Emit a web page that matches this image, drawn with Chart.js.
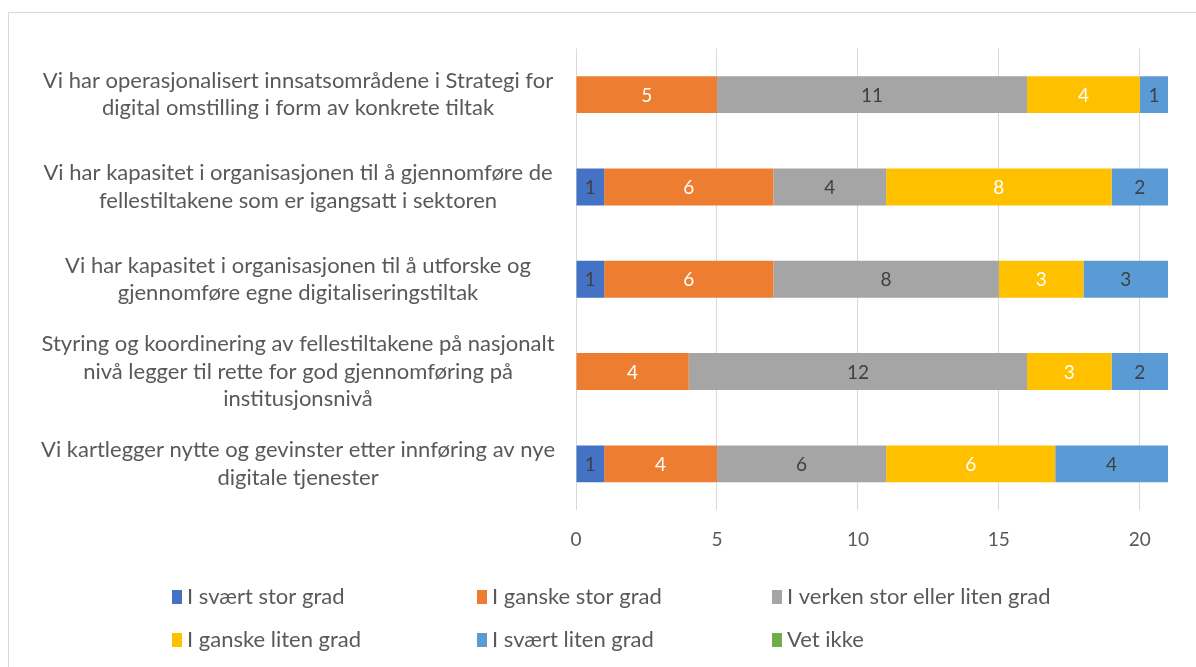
<!DOCTYPE html>
<html>
<head>
<meta charset="utf-8">
<script src="https://cdn.jsdelivr.net/npm/chart.js@4"></script>
<style>
  html, body { margin: 0; padding: 0; background: #fff; overflow: hidden; }
  #wrap { position: relative; width: 1196px; height: 667px; }
  #frame { position: absolute; left: 8px; top: 12px; width: 1200px; height: 700px; border: 1px solid #d9d9d9; box-sizing: border-box; }
  canvas { position: absolute; left: 0; top: 0; }
</style>
</head>
<body>
<div id="wrap">
  <div id="frame"></div>
  <canvas id="chart" width="1196" height="667"></canvas>
</div>
<script>
const categories = [
    ['Vi har operasjonalisert innsatsområdene i Strategi for', 'digital omstilling i form av konkrete tiltak'],
    ['Vi har kapasitet i organisasjonen til å gjennomføre de', 'fellestiltakene som er igangsatt i sektoren'],
    ['Vi har kapasitet i organisasjonen til å utforske og', 'gjennomføre egne digitaliseringstiltak'],
    ['Styring og koordinering av fellestiltakene på nasjonalt', 'nivå legger til rette for god gjennomføring på', 'institusjonsnivå'],
    ['Vi kartlegger nytte og gevinster etter innføring av nye', 'digitale tjenester']
];

const seriesNames = ['I svært stor grad', 'I ganske stor grad', 'I verken stor eller liten grad',
    'I ganske liten grad', 'I svært liten grad', 'Vet ikke'];

const sværtStor = [0, 1, 1, 0, 1];
const ganskeStor = [5, 6, 6, 4, 4];
const verken = [11, 4, 8, 12, 6];
const ganskeLiten = [4, 8, 3, 3, 6];
const sværtLiten = [1, 2, 3, 2, 4];
const vetIkke = [0, 0, 0, 0, 0];

const xTicks = [0, 5, 10, 15, 20];

const colors = ['#4472C4', '#ED7D31', '#A5A5A5', '#FFC000', '#5B9BD5', '#70AD47'];
const labelColors = ['#404040', '#ffffff', '#404040', '#ffffff', '#404040', '#404040'];

const FONT = 'Lato, "Open Sans", sans-serif';
const TEXT = '#595959';

const values = [sværtStor, ganskeStor, verken, ganskeLiten, sværtLiten, vetIkke];

// value labels in the middle of each segment
const barLabels = {
    id: 'barLabels',
    afterDatasetsDraw(chart) {
        const ctx = chart.ctx;
        ctx.save();
        ctx.font = '19px ' + FONT;
        ctx.textAlign = 'center';
        ctx.textBaseline = 'middle';
        chart.data.datasets.forEach((ds, i) => {
            const meta = chart.getDatasetMeta(i);
            meta.data.forEach((bar, j) => {
                const v = ds.data[j];
                if (!v) return;
                const p = bar.getProps(['x', 'y', 'base'], true);
                ctx.fillStyle = labelColors[i];
                ctx.fillText(String(v), (p.x + p.base) / 2, p.y + 1);
            });
        });
        ctx.restore();
    }
};

// legend laid out as a 3-column grid
const gridLegend = {
    id: 'gridLegend',
    afterDraw(chart) {
        const ctx = chart.ctx;
        const cols = [172, 477, 772];
        const rows = [597, 640];
        ctx.save();
        ctx.font = '22px ' + FONT;
        ctx.textBaseline = 'middle';
        chart.data.datasets.forEach((ds, i) => {
            const x = cols[i % 3];
            const y = rows[Math.floor(i / 3)];
            ctx.fillStyle = ds.backgroundColor;
            ctx.fillRect(x, y - 7, 10, 14);
            ctx.fillStyle = TEXT;
            ctx.fillText(ds.label, x + 15, y);
        });
        ctx.restore();
    }
};

new Chart(document.getElementById('chart'), {
    type: 'bar',
    data: {
        labels: categories,
        datasets: seriesNames.map((name, i) => ({
            label: name,
            data: values[i],
            backgroundColor: colors[i],
            borderWidth: 0,
            barPercentage: 0.8,
            categoryPercentage: 0.5
        }))
    },
    options: {
        indexAxis: 'y',
        responsive: false,
        animation: false,
        layout: { padding: { top: 42, right: 28, bottom: 107, left: 0 } },
        plugins: {
            legend: { display: false },
            tooltip: { enabled: false }
        },
        scales: {
            x: {
                stacked: true,
                min: 0,
                max: 21,
                border: { display: false },
                grid: { color: '#d9d9d9', lineWidth: 1, drawTicks: false },
                afterBuildTicks: scale => { scale.ticks = xTicks.map(v => ({ value: v })); },
                afterFit: scale => { scale.height = 50; },
                ticks: {
                    color: TEXT,
                    padding: 18,
                    font: { family: FONT, size: 19 }
                }
            },
            y: {
                stacked: true,
                border: { display: false },
                grid: { display: false, drawTicks: false },
                afterFit: scale => { scale.width = 576; },
                ticks: {
                    color: TEXT,
                    padding: 21,
                    crossAlign: 'center',
                    font: { family: FONT, size: 22, lineHeight: 1.25 }
                }
            }
        }
    },
    plugins: [barLabels, gridLegend]
});
</script>
</body>
</html>
